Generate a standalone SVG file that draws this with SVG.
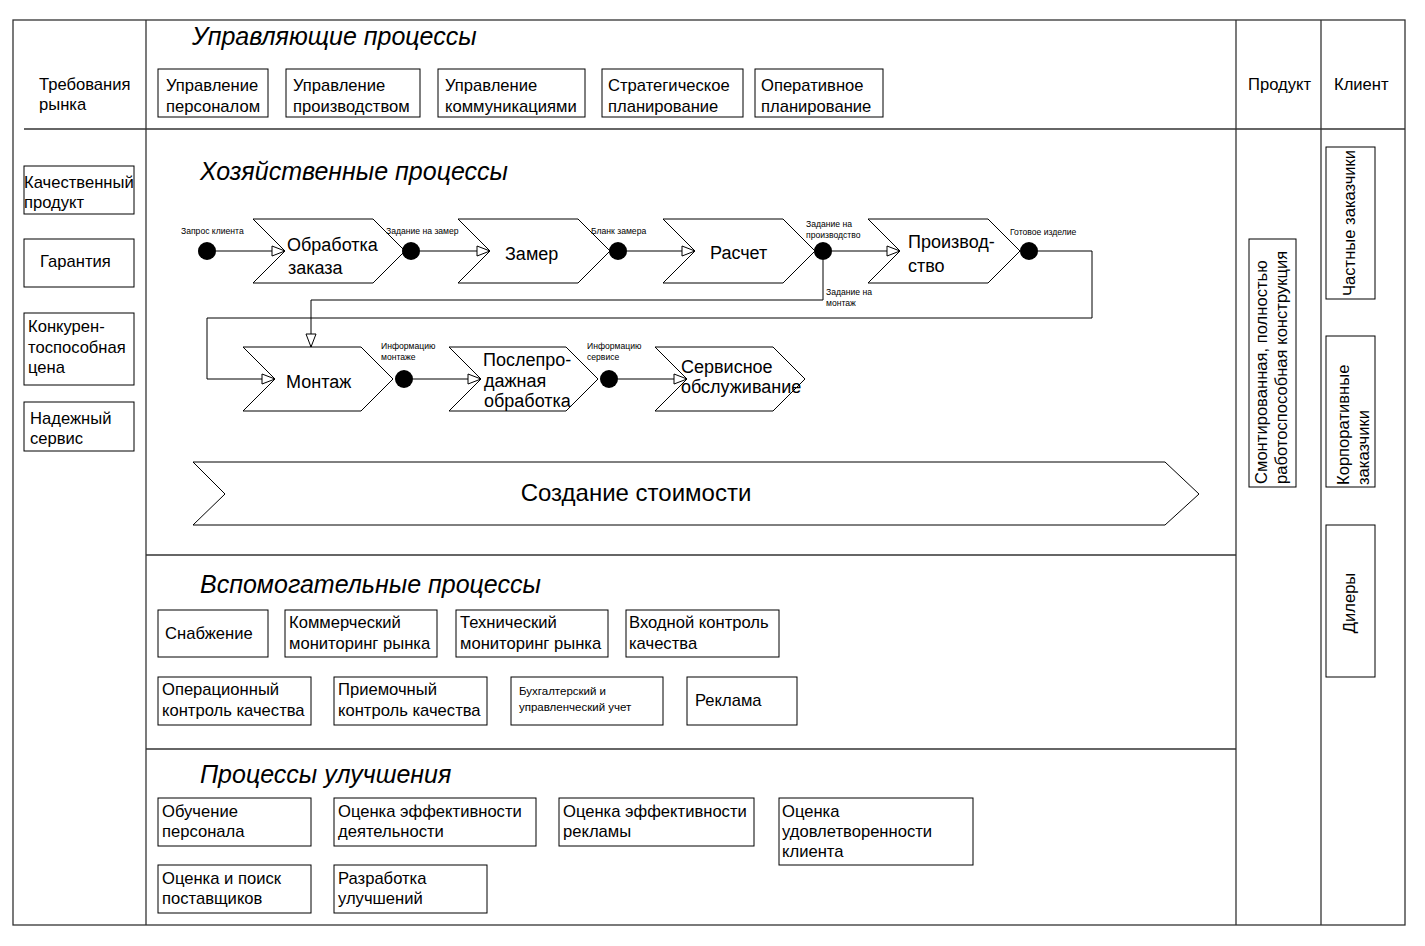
<svg xmlns="http://www.w3.org/2000/svg" width="1425" height="946" viewBox="0 0 1425 946">
<style>
text{font-family:"Liberation Sans",Arial,sans-serif;fill:#000}
.t{font-size:16.6px}
.h{font-size:25px;font-style:italic}
.c{font-size:18px}
.s{font-size:8.6px}
.b{fill:#fff;stroke:#000;stroke-width:1}
.ln{fill:none;stroke:#000;stroke-width:1}
.fr{fill:none;stroke:#333;stroke-width:1.3}
.dot{fill:#000}
</style>
<defs>
<marker id="ar" markerUnits="userSpaceOnUse" markerWidth="16" markerHeight="12" refX="14" refY="6" orient="auto">
<path d="M1,1 L14,6 L1,11 z" fill="#fff" stroke="#000" stroke-width="1"/>
</marker>
</defs>
<rect width="1425" height="946" fill="#fff"/>
<g id="frame">
<rect x="13" y="20" width="1392" height="905" class="fr"/>
<line x1="146" y1="20" x2="146" y2="925" class="fr"/>
<line x1="1236" y1="20" x2="1236" y2="925" class="fr"/>
<line x1="1321" y1="20" x2="1321" y2="925" class="fr"/>
<line x1="24" y1="129" x2="1405" y2="129" class="fr"/>
<line x1="146" y1="555" x2="1236" y2="555" class="fr"/>
<line x1="146" y1="749" x2="1236" y2="749" class="fr"/>
</g>
<g id="headers">
<text class="h" x="192" y="45">Управляющие процессы</text>
<text class="h" x="200" y="180">Хозяйственные процессы</text>
<text class="h" x="200" y="593">Вспомогательные процессы</text>
<text class="h" x="200" y="783">Процессы улучшения</text>
<text class="t" x="39" y="90">Требования</text>
<text class="t" x="39" y="110">рынка</text>
<text class="t" x="1248" y="90">Продукт</text>
<text class="t" x="1334" y="90">Клиент</text>
</g>
<g id="mgmt-1"><rect x="158" y="69" width="110" height="48" class="b"/><text class="t" x="166" y="91">Управление</text><text class="t" x="166" y="112">персоналом</text></g>
<g id="mgmt-2"><rect x="286" y="69" width="134" height="48" class="b"/><text class="t" x="293" y="91">Управление</text><text class="t" x="293" y="112">производством</text></g>
<g id="mgmt-3"><rect x="438" y="69" width="147" height="48" class="b"/><text class="t" x="445" y="91">Управление</text><text class="t" x="445" y="112">коммуникациями</text></g>
<g id="mgmt-4"><rect x="602" y="69" width="141" height="48" class="b"/><text class="t" x="608" y="91">Стратегическое</text><text class="t" x="608" y="112">планирование</text></g>
<g id="mgmt-5"><rect x="755" y="69" width="128" height="48" class="b"/><text class="t" x="761" y="91">Оперативное</text><text class="t" x="761" y="112">планирование</text></g>
<g id="req-1"><rect x="24" y="166" width="110" height="48" class="b"/><text class="t" x="24" y="188">Качественный</text><text class="t" x="24" y="208">продукт</text></g>
<g id="req-2"><rect x="24" y="239" width="110" height="48" class="b"/><text class="t" x="40" y="267">Гарантия</text></g>
<g id="req-3"><rect x="24" y="313" width="110" height="72" class="b"/><text class="t" x="28" y="332">Конкурен-</text><text class="t" x="28" y="353">тоспособная</text><text class="t" x="28" y="373">цена</text></g>
<g id="req-4"><rect x="24" y="402" width="110" height="49" class="b"/><text class="t" x="30" y="424">Надежный</text><text class="t" x="30" y="444">сервис</text></g>
<g id="connectors">
<line x1="216" y1="251" x2="285" y2="251" class="ln" marker-end="url(#ar)"/>
<line x1="420" y1="251" x2="490" y2="251" class="ln" marker-end="url(#ar)"/>
<line x1="627" y1="251" x2="695" y2="251" class="ln" marker-end="url(#ar)"/>
<line x1="832" y1="251" x2="900" y2="251" class="ln" marker-end="url(#ar)"/>
<polyline points="823,260 823,300 311,300 311,347" class="ln" marker-end="url(#ar)"/>
<polyline points="1038,251 1092,251 1092,318 207,318 207,379 275,379" class="ln" marker-end="url(#ar)"/>
<line x1="413" y1="379" x2="481" y2="379" class="ln" marker-end="url(#ar)"/>
<line x1="618" y1="379" x2="687" y2="379" class="ln" marker-end="url(#ar)"/>
</g>
<g id="proc-order"><path d="M253,219 L373,219 L405,251 L373,283 L253,283 L285,251 Z" class="b"/><text class="c" x="287" y="251">Обработка</text><text class="c" x="288" y="274">заказа</text></g>
<g id="proc-measure"><path d="M458,219 L578,219 L610,251 L578,283 L458,283 L490,251 Z" class="b"/><text class="c" x="505" y="260">Замер</text></g>
<g id="proc-calc"><path d="M663,219 L783,219 L815,251 L783,283 L663,283 L695,251 Z" class="b"/><text class="c" x="710" y="259">Расчет</text></g>
<g id="proc-prod"><path d="M868,219 L988,219 L1020,251 L988,283 L868,283 L900,251 Z" class="b"/><text class="c" x="908" y="248">Производ-</text><text class="c" x="908" y="272">ство</text></g>
<g id="proc-mount"><path d="M243,347 L361,347 L393,379 L361,411 L243,411 L275,379 Z" class="b"/><text class="c" x="286" y="388">Монтаж</text></g>
<g id="proc-after"><path d="M449,347 L566,347 L598,379 L566,411 L449,411 L481,379 Z" class="b"/><text class="c" x="483" y="366">Послепро-</text><text class="c" x="484" y="387">дажная</text><text class="c" x="484" y="407">обработка</text></g>
<g id="proc-service"><path d="M655,347 L773,347 L805,379 L773,411 L655,411 L687,379 Z" class="b"/><text class="c" x="681" y="373">Сервисное</text><text class="c" x="681" y="393">обслуживание</text></g>
<g id="events">
<circle cx="207" cy="251" r="9" class="dot"/>
<circle cx="411" cy="251" r="9" class="dot"/>
<circle cx="618" cy="251" r="9" class="dot"/>
<circle cx="823" cy="251" r="9" class="dot"/>
<circle cx="1029" cy="251" r="9" class="dot"/>
<circle cx="404" cy="379" r="9" class="dot"/>
<circle cx="609" cy="379" r="9" class="dot"/>
<text class="s" x="181" y="234">Запрос клиента</text>
<text class="s" x="386" y="234">Задание на замер</text>
<text class="s" x="591" y="234">Бланк замера</text>
<text class="s" x="806" y="227">Задание на</text>
<text class="s" x="806" y="238">производство</text>
<text class="s" x="1010" y="235">Готовое изделие</text>
<text class="s" x="826" y="295">Задание на</text>
<text class="s" x="826" y="306">монтаж</text>
<text class="s" x="381" y="349">Информацию</text>
<text class="s" x="381" y="360">монтаже</text>
<text class="s" x="587" y="349">Информацию</text>
<text class="s" x="587" y="360">сервисе</text>
</g>
<g id="value"><path d="M193,462 L1165,462 L1199,494 L1165,525 L193,525 L225,494 Z" class="b"/><text x="636" y="501" font-size="24" text-anchor="middle">Создание стоимости</text></g>
<g id="product"><rect x="1249" y="239" width="47" height="248" class="b"/><text class="t" transform="translate(1267,484) rotate(-90)">Смонтированная, полностью</text><text class="t" transform="translate(1287,484) rotate(-90)">работоспособная конструкция</text></g>
<g id="client-1"><rect x="1326" y="147" width="49" height="152" class="b"/><text class="t" transform="translate(1355,296) rotate(-90)">Частные заказчики</text></g>
<g id="client-2"><rect x="1326" y="336" width="49" height="151" class="b"/><text class="t" transform="translate(1349,485) rotate(-90)">Корпоративные</text><text class="t" transform="translate(1369,485) rotate(-90)">заказчики</text></g>
<g id="client-3"><rect x="1326" y="525" width="49" height="152" class="b"/><text class="t" text-anchor="middle" transform="translate(1355,603) rotate(-90)">Дилеры</text></g>
<g id="sup-1"><rect x="158" y="610" width="110" height="47" class="b"/><text class="t" x="165" y="639">Снабжение</text></g>
<g id="sup-2"><rect x="285" y="610" width="152" height="47" class="b"/><text class="t" x="289" y="628">Коммерческий</text><text class="t" x="289" y="649">мониторинг рынка</text></g>
<g id="sup-3"><rect x="456" y="610" width="152" height="47" class="b"/><text class="t" x="460" y="628">Технический</text><text class="t" x="460" y="649">мониторинг рынка</text></g>
<g id="sup-4"><rect x="626" y="610" width="153" height="47" class="b"/><text class="t" x="629" y="628">Входной контроль</text><text class="t" x="629" y="649">качества</text></g>
<g id="sup-5"><rect x="158" y="677" width="153" height="48" class="b"/><text class="t" x="162" y="695">Операционный</text><text class="t" x="162" y="716">контроль качества</text></g>
<g id="sup-6"><rect x="334" y="677" width="153" height="48" class="b"/><text class="t" x="338" y="695">Приемочный</text><text class="t" x="338" y="716">контроль качества</text></g>
<g id="sup-7"><rect x="511" y="677" width="152" height="48" class="b"/><text x="519" y="695" font-size="11.5">Бухгалтерский и</text><text x="519" y="711" font-size="11.5">управленческий учет</text></g>
<g id="sup-8"><rect x="687" y="677" width="110" height="48" class="b"/><text class="t" x="695" y="706">Реклама</text></g>
<g id="imp-1"><rect x="158" y="798" width="153" height="48" class="b"/><text class="t" x="162" y="817">Обучение</text><text class="t" x="162" y="837">персонала</text></g>
<g id="imp-2"><rect x="334" y="798" width="202" height="48" class="b"/><text class="t" x="338" y="817">Оценка эффективности</text><text class="t" x="338" y="837">деятельности</text></g>
<g id="imp-3"><rect x="559" y="798" width="195" height="48" class="b"/><text class="t" x="563" y="817">Оценка эффективности</text><text class="t" x="563" y="837">рекламы</text></g>
<g id="imp-4"><rect x="779" y="798" width="194" height="67" class="b"/><text class="t" x="782" y="817">Оценка</text><text class="t" x="782" y="837">удовлетворенности</text><text class="t" x="782" y="857">клиента</text></g>
<g id="imp-5"><rect x="158" y="865" width="153" height="48" class="b"/><text class="t" x="162" y="884">Оценка и поиск</text><text class="t" x="162" y="904">поставщиков</text></g>
<g id="imp-6"><rect x="334" y="865" width="153" height="48" class="b"/><text class="t" x="338" y="884">Разработка</text><text class="t" x="338" y="904">улучшений</text></g>
</svg>
